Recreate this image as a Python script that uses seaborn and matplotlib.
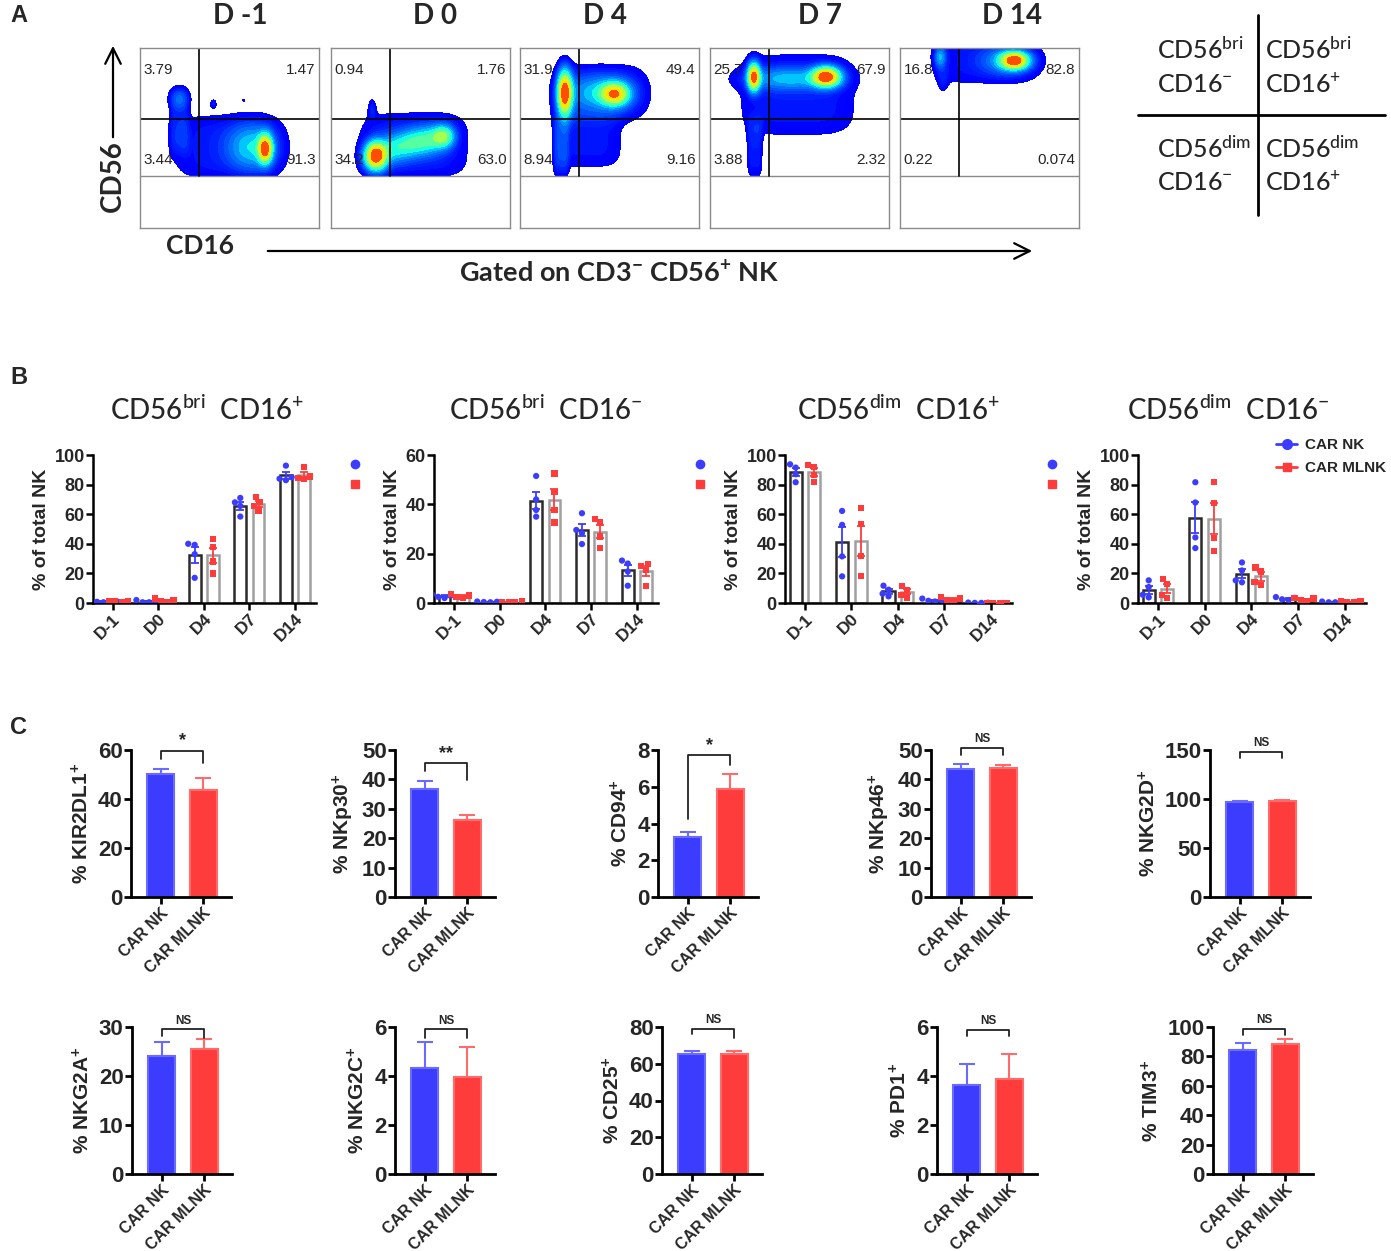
import numpy as np
import pandas as pd
import matplotlib
matplotlib.use("Agg")
import matplotlib.pyplot as plt
import seaborn as sns
from matplotlib.colors import ListedColormap
from matplotlib.lines import Line2D

sns.set_theme(style="ticks")
plt.rcParams["font.family"] = ["Liberation Sans", "DejaVu Sans"]
plt.rcParams["mathtext.default"] = "regular"
NARROW = ["Liberation Sans Narrow", "Liberation Sans", "DejaVu Sans"]
CALI = ["Lato", "DejaVu Sans"]

W, H = 1391, 1251
BLUE = "#3c3cff"
RED = "#ff3c3c"

# ---------------- panel A data (flow plots) ----------------
flow_days = ["D -1", "D 0", "D 4", "D 7", "D 14"]
q_ul = ["3.79", "0.94", "31.9", "25.7", "16.8"]
q_ur = ["1.47", "1.76", "49.4", "67.9", "82.8"]
q_ll = ["3.44", "34.2", "8.94", "3.88", "0.22"]
q_lr = ["91.3", "63.0", "9.16", "2.32", "0.074"]

# density blobs: (cx, cy, sx, sy, weight, shape)
blobs_dm1 = [(0.49, 0.45, 0.25, 0.15, 0.07, 4), (0.63, 0.45, 0.09, 0.08, 0.25, 2),
             (0.70, 0.44, 0.025, 0.05, 0.75, 2), (0.22, 0.55, 0.045, 0.12, 0.07, 4),
             (0.22, 0.72, 0.035, 0.04, 0.16, 2), (0.41, 0.69, 0.012, 0.018, 0.06, 2),
             (0.58, 0.71, 0.006, 0.006, 0.05, 2)]
blobs_d0 = [(0.465, 0.46, 0.25, 0.15, 0.07, 4), (0.25, 0.40, 0.04, 0.05, 0.8, 2),
            (0.35, 0.44, 0.06, 0.05, 0.2, 2), (0.45, 0.47, 0.06, 0.05, 0.22, 2),
            (0.55, 0.49, 0.06, 0.05, 0.25, 2), (0.63, 0.51, 0.04, 0.04, 0.35, 2),
            (0.23, 0.66, 0.015, 0.04, 0.06, 2)]
blobs_d4 = [(0.45, 0.75, 0.21, 0.13, 0.07, 4), (0.38, 0.50, 0.16, 0.14, 0.06, 4),
            (0.23, 0.45, 0.035, 0.14, 0.08, 4), (0.25, 0.75, 0.026, 0.08, 0.8, 2),
            (0.53, 0.745, 0.05, 0.04, 0.55, 2), (0.45, 0.75, 0.12, 0.06, 0.2, 2)]
blobs_d7 = [(0.49, 0.74, 0.27, 0.19, 0.07, 4), (0.25, 0.45, 0.035, 0.14, 0.07, 4),
            (0.245, 0.84, 0.022, 0.05, 0.75, 2), (0.65, 0.84, 0.05, 0.035, 0.8, 2),
            (0.45, 0.83, 0.16, 0.04, 0.2, 2)]
blobs_d14 = [(0.47, 0.93, 0.25, 0.11, 0.07, 4), (0.64, 0.93, 0.05, 0.03, 0.9, 2),
             (0.60, 0.93, 0.10, 0.05, 0.2, 2), (0.225, 0.95, 0.02, 0.04, 0.25, 2),
             (0.24, 0.82, 0.02, 0.05, 0.06, 2)]
flow_blobs = [blobs_dm1, blobs_d0, blobs_d4, blobs_d7, blobs_d14]

# ---------------- panel B data ----------------
days_b = ["D-1", "D0", "D4", "D7", "D14"]
groups = ["CAR NK", "CAR MLNK"]

bri_pos_nk = [[0.5, 1.0, 0.8, 1.2], [0.5, 1.5, 0.5, 2.0], [39.3, 40.0, 33.0, 17.0],
              [71.0, 68.0, 65.6, 58.4], [92.8, 85.0, 83.0, 84.0]]
bri_pos_ml = [[1.0, 1.5, 1.2, 0.8], [0.5, 2.0, 1.0, 3.0], [43.0, 38.0, 28.0, 20.0],
              [71.5, 68.0, 65.6, 62.5], [92.0, 85.4, 84.3, 83.6]]
bri_neg_nk = [[2.0, 3.5, 2.5, 3.0], [0.3, 0.5, 0.4, 0.6], [51.5, 42.0, 37.7, 35.0],
              [36.4, 29.6, 28.3, 23.9], [17.2, 16.0, 12.8, 7.0]]
bri_neg_ml = [[2.5, 3.8, 2.0, 3.0], [0.4, 0.6, 0.5, 0.5], [52.5, 45.0, 37.7, 32.6],
              [34.0, 32.6, 27.0, 22.2], [15.9, 15.0, 13.5, 7.0]]
dim_pos_nk = [[93.7, 91.5, 87.0, 81.6], [62.2, 52.8, 31.5, 18.0], [11.7, 9.0, 6.3, 4.5],
              [3.0, 2.0, 1.5, 1.0], [0.3, 0.2, 0.1, 0.1]]
dim_pos_ml = [[93.3, 92.0, 86.5, 82.0], [64.0, 53.5, 32.0, 18.0], [11.7, 9.0, 5.6, 3.8],
              [4.0, 3.0, 2.0, 1.5], [0.2, 0.1, 0.1, 0.1]]
dim_neg_nk = [[15.3, 10.8, 5.6, 3.8], [81.6, 67.9, 44.3, 37.1], [27.4, 22.0, 15.3, 14.0],
              [4.0, 3.5, 2.5, 2.0], [1.0, 0.8, 0.5, 0.5]]
dim_neg_ml = [[16.2, 13.0, 5.6, 3.4], [81.6, 67.4, 43.8, 35.3], [24.0, 21.3, 14.0, 12.4],
              [3.5, 3.0, 2.0, 1.5], [1.2, 1.0, 0.6, 0.5]]

b_titles = ["CD56$^{bri}$  CD16$^{+}$", "CD56$^{bri}$  CD16$^{-}$",
            "CD56$^{dim}$  CD16$^{+}$", "CD56$^{dim}$  CD16$^{-}$"]
b_data = [(bri_pos_nk, bri_pos_ml), (bri_neg_nk, bri_neg_ml),
          (dim_pos_nk, dim_pos_ml), (dim_neg_nk, dim_neg_ml)]
b_ymax = [100, 60, 100, 100]

# ---------------- panel C data ----------------
c_markers = ["KIR2DL1", "NKp30", "CD94", "NKp46", "NKG2D",
             "NKG2A", "NKG2C", "CD25", "PD1", "TIM3"]
c_nk_mean = [50.1, 36.9, 3.26, 43.5, 96.5, 24.1, 4.33, 65.5, 3.64, 84.1]
c_nk_sem = [2.3, 2.7, 0.29, 1.8, 1.0, 2.8, 1.06, 1.3, 0.83, 5.2]
c_ml_mean = [43.8, 26.1, 5.88, 43.9, 97.9, 25.6, 3.96, 65.5, 3.86, 88.7]
c_ml_sem = [4.7, 1.7, 0.84, 0.9, 1.1, 2.0, 1.22, 1.5, 1.05, 2.9]
c_ymax = [60, 50, 8, 50, 150, 30, 6, 80, 6, 100]
c_ystep = [20, 10, 2, 10, 50, 10, 2, 20, 2, 20]
c_sig = ["*", "**", "*", "NS", "NS", "NS", "NS", "NS", "NS", "NS"]
c_br_top = [59.6, 45.5, 7.72, 50.6, 148.4, 29.5, 5.9, 78.8, 5.89, 98.4]
c_br_left = [56.2, 42.7, 4.23, 48.3, 141.6, 28.2, 5.56, 76.4, 5.62, 94.8]
c_br_right = [54.6, 39.9, 7.18, 48.3, 141.6, 27.8, 5.56, 74.2, 5.62, 94.8]

fig = plt.figure(figsize=(W / 100, H / 100), dpi=100)


def px_ax(l, t, r, b):
    return fig.add_axes([l / W, 1 - b / H, (r - l) / W, (b - t) / H])


def ftext(x, y, s, **kw):
    fig.text(x / W, 1 - y / H, s, **kw)


# ================= panel A =================
ftext(10, 16, "A", fontsize=17, fontweight="bold", va="center")
flow_boxes = [140, 331, 520, 710, 900]
title_x = [240, 435, 605, 820, 1012]
GATE_LOW, GATE_HI, GATE_X = 0.289, 0.605, 0.327
jet = plt.get_cmap("jet")
flow_cmap = ListedColormap(jet(np.linspace(0.12, 0.9, 64)))

for i, left in enumerate(flow_boxes):
    ax = px_ax(left, 48, left + 179, 228)
    g = np.linspace(0, 1, 260)
    X, Y = np.meshgrid(g, g)
    Z = np.zeros_like(X)
    for cx, cy, sx, sy, w, p in flow_blobs[i]:
        Z += w * np.exp(-0.5 * (np.abs((X - cx) / sx) ** p + np.abs((Y - cy) / sy) ** p))
    Z[Y < GATE_LOW] = 0
    Z = Z / Z.max()
    ax.contourf(X, Y, Z, levels=np.geomspace(0.03, 1.0, 16), cmap=flow_cmap, extend="neither")
    ax.set_xlim(0, 1)
    ax.set_ylim(0, 1)
    ax.set_xticks([])
    ax.set_yticks([])
    for sp in ax.spines.values():
        sp.set_color("#8a8a8a")
        sp.set_linewidth(1.0)
    ax.axhline(GATE_HI, color="black", lw=1.2)
    ax.axhline(GATE_LOW, color="#8a8a8a", lw=1.0)
    ax.axvline(GATE_X, ymin=GATE_LOW, ymax=1, color="black", lw=1.2)
    ax.text(0.02, 0.875, q_ul[i], transform=ax.transAxes, fontsize=11, family=NARROW, va="center")
    ax.text(0.98, 0.875, q_ur[i], transform=ax.transAxes, fontsize=11, family=NARROW, va="center", ha="right")
    ax.text(0.02, 0.375, q_ll[i], transform=ax.transAxes, fontsize=11, family=NARROW, va="center")
    ax.text(0.98, 0.375, q_lr[i], transform=ax.transAxes, fontsize=11, family=NARROW, va="center", ha="right")
    ftext(title_x[i], 16, flow_days[i], fontsize=20, fontweight="bold", family=CALI, ha="center", va="center")

# axis labels and arrows of panel A
ftext(113, 176, "CD56", fontsize=20, fontweight="bold", family=CALI, rotation=90, ha="center", va="center")
ftext(200, 246, "CD16", fontsize=19, fontweight="bold", family=CALI, ha="center", va="center")
ftext(619, 273, "Gated on CD3$^{-}$ CD56$^{+}$ NK", fontsize=19.5, fontweight="bold", family=CALI,
      ha="center", va="center")
fig.add_artist(matplotlib.patches.FancyArrowPatch((113 / W, 1 - 140 / H), (113 / W, 1 - 43 / H),
               transform=fig.transFigure, arrowstyle="->", mutation_scale=28, lw=1.6, color="black"))
fig.add_artist(matplotlib.patches.FancyArrowPatch((265 / W, 1 - 251 / H), (1035 / W, 1 - 251 / H),
               transform=fig.transFigure, arrowstyle="->", mutation_scale=28, lw=1.6, color="black"))

# quadrant key
fig.add_artist(Line2D([1258 / W, 1258 / W], [1 - 15 / H, 1 - 215 / H], color="black", lw=2))
fig.add_artist(Line2D([1138 / W, 1385 / W], [1 - 115 / H, 1 - 115 / H], color="black", lw=2))
key = [(1157, 50, "CD56$^{bri}$"), (1157, 84, "CD16$^{-}$"), (1265, 50, "CD56$^{bri}$"),
       (1265, 84, "CD16$^{+}$"), (1157, 149, "CD56$^{dim}$"), (1157, 182, "CD16$^{-}$"),
       (1265, 149, "CD56$^{dim}$"), (1265, 182, "CD16$^{+}$")]
for kx, ky, ks in key:
    ftext(kx, ky, ks, fontsize=18, fontweight="medium", family=CALI, va="center", ha="left")

# ================= panel B =================
ftext(10, 378, "B", fontsize=17, fontweight="bold", va="center")
b_boxes = [(93, 455, 316, 603), (434, 455, 658, 603), (785, 455, 1012, 603), (1138, 455, 1366, 603)]
b_title_x = [207, 546, 898, 1228]
b_leg_x = [355, 700, 1052]

for k, (l, t, r, b) in enumerate(b_boxes):
    ax = px_ax(l, t, r, b)
    nk, ml = b_data[k]
    rows = []
    for di, d in enumerate(days_b):
        for v in nk[di]:
            rows.append((d, groups[0], v))
        for v in ml[di]:
            rows.append((d, groups[1], v))
    df = pd.DataFrame(rows, columns=["day", "group", "val"])
    sns.barplot(data=df, x="day", y="val", hue="group", order=days_b, hue_order=groups,
                palette={groups[0]: "#2b2b2b", groups[1]: "#a0a0a0"}, fill=False, linewidth=1.8,
                gap=0.35, errorbar=None, legend=False, ax=ax)
    bars = sorted(ax.patches, key=lambda p: p.get_x())
    sems = []
    for di in range(len(days_b)):
        for arr in (nk, ml):
            sems.append(np.std(arr[di], ddof=1) / np.sqrt(len(arr[di])))
    for j, p in enumerate(bars):
        ax.errorbar(p.get_x() + p.get_width() / 2, p.get_height(), yerr=sems[j], fmt="none",
                    ecolor=BLUE if j % 2 == 0 else RED, elinewidth=1.3, capsize=3, capthick=1.3, zorder=4)
    for grp, mk in zip(groups, ["o", "s"]):
        sns.swarmplot(data=df[df.group == grp], x="day", y="val", hue="group", order=days_b,
                      hue_order=groups, dodge=True, palette={groups[0]: BLUE, groups[1]: RED},
                      marker=mk, size=4.5, linewidth=0, legend=False, ax=ax, zorder=5)
    ax.set_xlim(-0.43, 4.46)
    ax.set_ylim(0, b_ymax[k])
    ax.set_yticks(np.arange(0, b_ymax[k] + 1, 20))
    sns.despine(ax=ax)
    for sp in ("left", "bottom"):
        ax.spines[sp].set_linewidth(1.8)
        ax.spines[sp].set_color("black")
    ax.tick_params(axis="both", length=5, width=1.8, color="black", pad=1)
    ax.set_xlabel("")
    ax.set_ylabel("% of total NK", fontsize=14, fontweight="bold", labelpad=3)
    for lab in ax.get_yticklabels():
        lab.set_fontfamily(NARROW)
        lab.set_fontweight("bold")
        lab.set_fontsize(13)
    ax.set_xticks(range(len(days_b)))
    ax.set_xticklabels(days_b, rotation=45, ha="right", rotation_mode="anchor",
                       fontsize=12.5, fontweight="bold")
    ax.set_facecolor("none")
    ftext(b_title_x[k], 410, b_titles[k], fontsize=20, fontweight="medium", family=CALI,
          ha="center", va="center")
    if k < 3:
        fig.add_artist(Line2D([b_leg_x[k] / W], [1 - 464 / H], color=BLUE, marker="o", ls="none", ms=6))
        fig.add_artist(Line2D([b_leg_x[k] / W], [1 - 484 / H], color=RED, marker="s", ls="none", ms=5.5))
    else:
        h_nk = Line2D([], [], color=BLUE, marker="o", ls="-", lw=2, ms=7)
        h_ml = Line2D([], [], color=RED, marker="s", ls="-", lw=2, ms=6)
        ax.legend([h_nk, h_ml], groups, loc="upper left", bbox_to_anchor=(1276 / W, 1 - 438 / H),
                  bbox_transform=fig.transFigure, frameon=False, handlelength=1.4,
                  handletextpad=0.5, labelspacing=0.6, borderpad=0, borderaxespad=0,
                  prop={"family": NARROW, "weight": "bold", "size": 11})

# ================= panel C =================
ftext(10, 727, "C", fontsize=17, fontweight="bold", va="center")
c_lefts = [131, 395, 658, 931, 1210, 132, 395, 662, 937, 1213]
for k in range(10):
    top, bot = (750, 897) if k < 5 else (1027, 1174)
    l = c_lefts[k]
    ax = px_ax(l, top, l + 100, bot)
    sns.barplot(x=groups, y=[c_nk_mean[k], c_ml_mean[k]], hue=groups, palette=[BLUE, RED],
                width=0.64, errorbar=None, legend=False, ax=ax, saturation=1,
                edgecolor=None, linewidth=1.5)
    bars = sorted(ax.patches, key=lambda p: p.get_x())
    edge_cols = ["#6a6aff", "#ff6a6a"]
    sems = [c_nk_sem[k], c_ml_sem[k]]
    xs = []
    for j, p in enumerate(bars):
        p.set_edgecolor(edge_cols[j])
        xc = p.get_x() + p.get_width() / 2
        xs.append(xc)
        ax.errorbar(xc, p.get_height(), yerr=[[0], [sems[j]]], fmt="none", ecolor=edge_cols[j],
                    elinewidth=1.5, capsize=6, capthick=1.5, zorder=1)
    ax.plot([xs[0], xs[0], xs[1], xs[1]], [c_br_left[k], c_br_top[k], c_br_top[k], c_br_right[k]],
            color="#222222", lw=1.3, clip_on=False)
    star = c_sig[k] != "NS"
    ax.text((xs[0] + xs[1]) / 2, c_br_top[k] + c_ymax[k] * (0.01 if star else 0.02), c_sig[k],
            ha="center", va="bottom", fontsize=13 if star else 8.5, fontweight="bold", family=NARROW)
    ax.set_xlim(-0.7, 1.65)
    ax.set_ylim(0, c_ymax[k])
    ax.set_yticks(np.arange(0, c_ymax[k] + 0.001, c_ystep[k]))
    sns.despine(ax=ax)
    for sp in ("left", "bottom"):
        ax.spines[sp].set_linewidth(2)
        ax.spines[sp].set_color("black")
    ax.tick_params(axis="both", length=5, width=2, color="black", pad=1)
    ax.set_ylabel("% " + c_markers[k] + "$^{+}$", fontsize=15, fontweight="bold", labelpad=4)
    for lab in ax.get_yticklabels():
        lab.set_fontfamily(NARROW)
        lab.set_fontweight("bold")
        lab.set_fontsize(16)
    ax.set_xticks(xs)
    ax.set_xticklabels(groups, rotation=45, ha="right", rotation_mode="anchor",
                       fontsize=11.5, fontweight="bold")
    ax.set_facecolor("none")

fig.savefig("out.png", dpi=100, facecolor="white")
